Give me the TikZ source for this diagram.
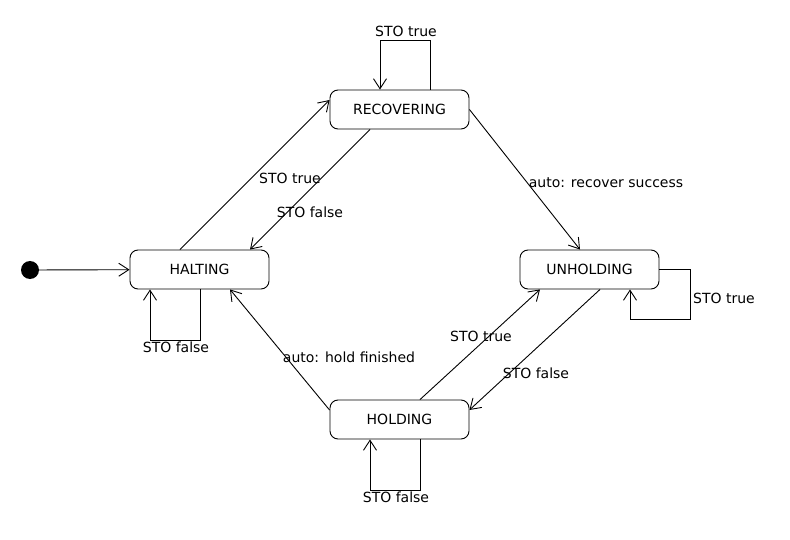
\documentclass[tikz,border=0pt]{standalone}
\usepackage{fontspec}
\setmainfont{DejaVu Sans}
\usetikzlibrary{arrows.meta}
\begin{document}
\begin{tikzpicture}[x=1pt,y=-1pt,
  state/.style={draw,line width=0.9pt,rounded corners=8pt,minimum width=139pt,minimum height=39pt,inner sep=0pt,font=\fontsize{14}{16}\selectfont},
  lbl/.style={inner sep=0pt,font=\fontsize{14}{16}\selectfont},
  conn/.style={line width=0.9pt,-{Straight Barb[length=10pt,width=13pt,line width=0.9pt]}}]
\useasboundingbox (0,0) rectangle (790,540);
\fill[white] (0,0) rectangle (790,540);
\node[state] (rec) at (399.5,109.5) {RECOVERING};
\node[state] (halt) at (199.5,269.5) {HALTING};
\node[state] (unh) at (589.5,269.5) {UNHOLDING};
\node[state] (hold) at (399.5,419.5) {HOLDING};
\node[circle,fill=black,minimum size=18pt,inner sep=0pt] (init) at (30,270) {};
% connectors
\draw[conn] (init) -- (halt);
\draw[conn] ([xshift=-19.5pt]halt.north) -- ([yshift=9.5pt]rec.west);
\draw[conn] ([xshift=-29.5pt]rec.south) -- ([xshift=50.5pt]halt.north);
\draw[conn] (rec.east) -- ([xshift=-9.5pt]unh.north);
\draw[conn] ([xshift=10.5pt]unh.south) -- ([yshift=9.5pt]hold.east);
\draw[conn] ([xshift=20.5pt]hold.north) -- ([xshift=-49.5pt]unh.south);
\draw[conn] ([yshift=9.5pt]hold.west) -- ([xshift=30.5pt]halt.south);
% self loops
\draw[conn] ([xshift=30.5pt]rec.north) -- ++(0,-49) -| ([xshift=-19.5pt]rec.north);
\draw[conn] ([xshift=0.5pt]halt.south) -- ++(0,51) -| ([xshift=-49.5pt]halt.south);
\draw[conn] (unh.east) -- ++(31,0) -- ++(0,50) -| ([xshift=40.5pt]unh.south);
\draw[conn] ([xshift=20.5pt]hold.south) -- ++(0,51) -| ([xshift=-29.5pt]hold.south);
% labels
\node[lbl] (l1) at (406,31) {STO true};
\node[lbl] (l2) at (176,347) {STO false};
\node[lbl] (l3) at (724,298) {STO true};
\node[lbl] (l4) at (396,497) {STO false};
\node[lbl] (l5) at (290,178) {STO true};
\node[lbl] (l6) at (310,212) {STO false};
\node[lbl] (l7) at (606,183) {auto: recover success};
\node[lbl] (l8) at (349,357) {auto: hold finished};
\node[lbl] (l9) at (481,336) {STO true};
\node[lbl] (l10) at (536,373) {STO false};
\end{tikzpicture}
\end{document}
